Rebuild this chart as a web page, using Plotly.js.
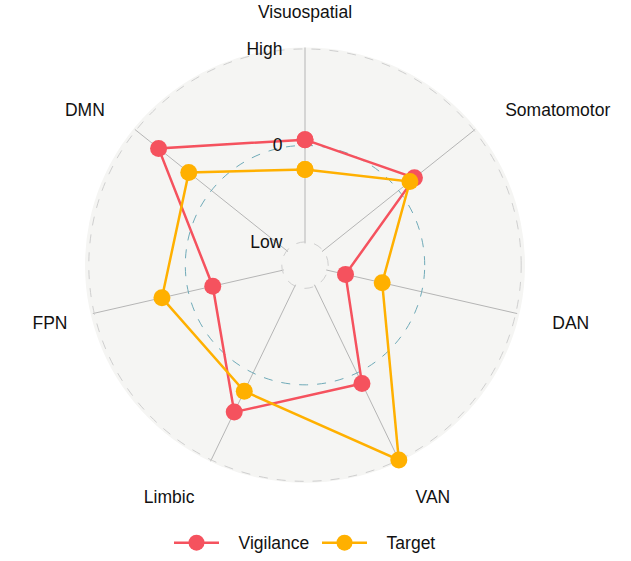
<!DOCTYPE html>
<html>
<head>
<meta charset="utf-8">
<script src="https://cdn.plot.ly/plotly-3.0.1.min.js"></script>
<style>html,body{margin:0;padding:0;background:#fff;}#chart{width:631px;height:561px;}</style>
</head>
<body>
<div id="chart"></div>
<script>
const categories = ["Visuospatial", "Somatomotor", "DAN", "VAN", "Limbic", "FPN", "DMN"];
const vigilance = [0.06, 0.21, -0.81, 0.12, 0.45, -0.26, 0.70];
const target = [-0.25, 0.15, -0.42, 1.0, 0.21, 0.28, 0.30];
const seriesNames = ["Vigilance", "Target"];
const radialTickVals = [-1, 0, 1];
const radialTickText = ["Low", "0", "High"];

const red = "#F5525E";
const orange = "#FFB000";
const font = "Liberation Sans, Arial, sans-serif";
const fs = 17.5;
const nb = "\u00a0";
// label spacing (presentation only): [leading, trailing] non-breaking spaces per category
const labelPad = {Visuospatial: [0, 0], Somatomotor: [2, 0], DAN: [2, 0], VAN: [1, 0], Limbic: [0, 1], FPN: [0, 0], DMN: [0, 2]};
const angTickText = categories.map(c => nb.repeat(labelPad[c][0]) + c + nb.repeat(labelPad[c][1]));
const radPad = nb.repeat(4);

function closed(a) { return a.concat([a[0]]); }

const traces = [
  // invisible holder so the background polar subplot (grid, labels) is drawn
  {type: "scatterpolar", subplot: "polar", r: vigilance, theta: categories, mode: "markers",
   marker: {opacity: 0}, showlegend: false, hoverinfo: "skip"},
  {type: "scatterpolar", subplot: "polar2", name: nb.repeat(3) + seriesNames[0], r: closed(vigilance), theta: closed(categories),
   mode: "lines+markers", line: {color: red, width: 2.5}, marker: {color: red, size: 17}, cliponaxis: false},
  {type: "scatterpolar", subplot: "polar2", name: nb.repeat(3) + seriesNames[1], r: closed(target), theta: closed(categories),
   mode: "lines+markers", line: {color: orange, width: 2.5}, marker: {color: orange, size: 17}, cliponaxis: false}
];

const dom = {x: [85/631, 525/631], y: [1 - 488/561, 1 - 48/561]};
const angBase = {type: "category", categoryarray: categories, rotation: 90, direction: "clockwise"};
const rRange = [-1.015, 1.015];

const layout = {
  width: 631, height: 561,
  margin: {l: 0, r: 0, t: 0, b: 0},
  paper_bgcolor: "#ffffff",
  font: {family: font, size: fs, color: "#111"},
  showlegend: true,
  legend: {orientation: "h", x: 169/631, xanchor: "left", y: 0.022, yanchor: "middle",
           font: {size: fs, family: font, color: "#111"}, itemwidth: 45, entrywidth: 88},
  shapes: [{type: "circle", xref: "paper", yref: "paper", layer: "below",
            x0: dom.x[0], x1: dom.x[1], y0: dom.y[0], y1: dom.y[1],
            fillcolor: "#F5F5F3", line: {width: 0}}],
  polar: {
    domain: dom, hole: 0.1, bgcolor: "rgba(0,0,0,0)",
    radialaxis: {range: rRange, tickvals: [radialTickVals[0], radialTickVals[2]],
                 ticktext: [radialTickText[0] + radPad, radialTickText[2] + radPad],
                 angle: 90, tickangle: 90, side: "counterclockwise", showline: false, ticks: "",
                 gridcolor: "#cfcfcf", griddash: "dash", gridwidth: 1,
                 tickfont: {size: fs, family: font, color: "#111"}},
    angularaxis: Object.assign({}, angBase, {showline: false, gridcolor: "#b5b5b5", gridwidth: 1,
                 tickmode: "array", tickvals: categories, ticktext: angTickText,
                 ticks: "outside", ticklen: 22, tickcolor: "rgba(0,0,0,0)",
                 tickfont: {size: fs, family: font, color: "#111"}})
  },
  polar2: {
    domain: dom, hole: 0.1, bgcolor: "rgba(0,0,0,0)",
    radialaxis: {range: rRange, tickvals: [radialTickVals[1]], ticktext: [radialTickText[1] + radPad],
                 angle: 90, tickangle: 90, side: "counterclockwise", showline: false, ticks: "",
                 gridcolor: "#6FAAB8", griddash: "dash", gridwidth: 1,
                 tickfont: {size: fs, family: font, color: "#111"}},
    angularaxis: Object.assign({}, angBase, {showline: false, showgrid: false, showticklabels: false, ticks: ""})
  }
};

Plotly.newPlot("chart", traces, layout, {displayModeBar: false, staticPlot: true});
</script>
</body>
</html>
